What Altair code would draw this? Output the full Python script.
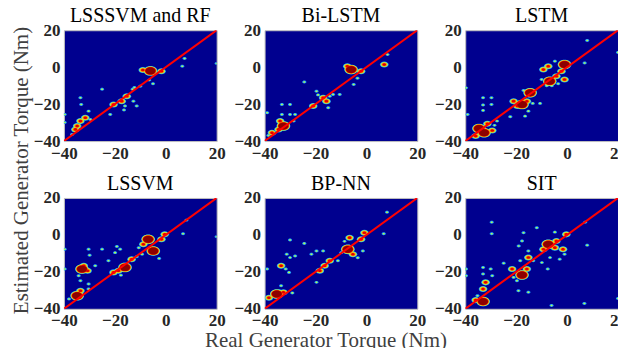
import altair as alt
import pandas as pd

FONT = "Liberation Serif"
BG = "#00008F"

titles = ["LSSSVM and RF", "Bi-LSTM", "LSTM", "LSSVM", "BP-NN", "SIT"]
ticks = [-40, -20, 0, 20]
line_x = [-40, 20]
line_y = [-40, 20]

# density blobs: real torque, estimated torque, intensity level (1..3)
p1_x = [-6, -9, -1.7, 7.4, 6.5, 20, -5, -6.5, -10, -12.3, -13, -25, -15.3, -17.3, -20.5, -12.7, -11.4, -16.4, -16, -21.8,
        -33.5, -31.6, -34.8, -35.5, -36.8, -33.5, -33.2, -30.3, -39.7, -39.7, -29.6]
p1_y = [-2, -1.5, -2.2, 4.7, 0.5, 2, -9, -7, -10.3, -11, -12, -12, -15.7, -18.4, -20.2, -18.4, -21, -23.2, -21, -25.6,
        -29.2, -27.4, -31.9, -33.7, -36.4, -16.6, -20.2, -23.8, -25.6, -30, -28.3]
p1_l = [3, 2, 2, 1, 1, 1, 1, 1, 1, 1, 1, 1, 2, 2, 2, 1, 1, 1, 1, 1,
        2, 2, 2, 2, 1, 1, 1, 1, 1, 1, 1]

p2_x = [-6, -7.5, -2.1, 7, 8.3, -5, -3.5, -24.4, -19.6, -19, -17, -15.7, -14.4, -13.1, -10.5, -15, -20.9,
        -33.2, -30, -39, -33.2, -30, -28, -33.9, -32.6, -34.5, -37.1, -38.5, -28.6]
p2_y = [-1.3, 0.5, -2.2, 1.4, 6.8, -9.4, -6, -8, -13, -15, -16.6, -18.4, -15.7, -14.8, -14.8, -22, -21,
        -20.2, -20.2, -24.7, -25.6, -25.6, -25.6, -29.2, -31.9, -33.7, -35.5, -37, -29.2]
p2_l = [3, 2, 2, 2, 1, 1, 1, 1, 1, 1, 2, 2, 1, 1, 1, 1, 2,
        1, 1, 1, 1, 1, 1, 2, 3, 2, 2, 1, 1]

p3_x = [7.9, 6.9, 20, -1, -7.4, -9.3, -4.8, -2.2, -1, -6.8, -4.2, -3.5, -10, -8, -6,
        -14.5, -17.7, -15.8, -17.1, -21, -19.5, -13.5, -15.2, -16.5, -10.6, -22.3, -27.5,
        -33, -29.7, -33, -29.7, -33, -39.1, -39.7, -34.6, -32.6, -29.4, -35.9, -31.3, -28.5]
p3_y = [14.4, 2.3, 8, 1.4, 0.5, -1.3, 3.2, -2.2, -6.7, -7.6, -4.9, -9, -6.7, -10, -10,
        -13.9, -20.2, -18.5, -12.6, -18.4, -21, -19.6, -23.8, -26.5, -19.6, -26.8, -29.2,
        -16.6, -16.6, -20.5, -20.2, -23.4, -25.6, -11.2, -33.2, -35.5, -34.3, -37.3, -30.6, -31.5]
p3_l = [1, 1, 1, 3, 2, 2, 1, 2, 2, 3, 2, 1, 1, 1, 1,
        3, 3, 2, 1, 2, 2, 1, 1, 1, 1, 1, 1,
        1, 1, 1, 1, 1, 1, 1, 3, 3, 2, 2, 2, 1]

p4_x = [8.1, 6.8, 20, -6.9, -8.8, -4.9, -1.7, -0.4, -10.6, -9.3, -2.6,
        -16, -18.6, -13.4, -11.4, -20.5, -17.6, -19.9, -17.9, -19.2, -22.5, -25,
        -30.3, -29.9, -32.2, -32.9, -30.7, -27.7, -39.7, -34.2, -33.5, -30.3, -30.3, -33.5, -34.8, -38, -39.7]
p4_y = [8, 0.6, -1, -2.4, -5.1, -8.7, -2.4, 0.3, -7, -10.5, -12.8,
        -17.6, -19.4, -13.2, -11.8, -20.3, -21.8, -9.6, -7.8, -6.3, -14, -7.8,
        -7.8, -11, -16.7, -18.5, -19.4, -16.7, -18.5, -22.1, -24.8, -26.6, -29.3, -30.2, -32.9, -34.7, -7.8]
p4_l = [1, 1, 1, 3, 2, 3, 2, 2, 1, 1, 1,
        3, 2, 2, 1, 2, 1, 1, 1, 1, 1, 1,
        1, 1, 2, 3, 2, 1, 1, 1, 1, 1, 1, 2, 3, 1, 1]

p5_x = [8.1, 6.8, -6.6, -7.3, -5.3, -2.1, -0.8, -8.6, -3.4, -1.4, -9.9,
        -16.4, -14.4, -18.3, -19.6, -21.6, -17, -19.6, -11.2,
        -30, -24.4, -31.3, -30, -33.5, -31.7, -30.4, -28, -39, -33.5, -34.2, -35.2, -32.6, -29.1, -38.3]
p5_y = [12.3, 0.6, -1.5, -7.8, -10.5, -2.4, 1.2, -3.5, -12.4, -8.7, -9.6,
        -16.7, -14, -19.4, -8.7, -10.5, -8.7, -25.7, -14,
        -2.8, -4.6, -10.5, -12.3, -16.7, -18.5, -20.3, -11.4, -18.5, -27.5, -30.2, -32, -31.1, -31.4, -34]
p5_l = [1, 1, 2, 3, 2, 2, 2, 1, 1, 1, 1,
        2, 2, 2, 1, 1, 1, 1, 1,
        1, 1, 1, 1, 2, 1, 1, 1, 1, 1, 1, 3, 2, 1, 2]

p6_x = [7.1, 7.9, -29.6, -29.6, -0.3, -4.8, -7.4, -4.2, -1.6, -1, -9.3, -4.8, -2.9, -6.7,
        -17.7, -15.8, -15.2, -13.3, -18.4, -21.6, -21, -19.7, -15.2, -19.1, -17.1, -17.7, -19, -15.2, -11.9, -9.9, -7.6, -24.9,
        -33, -30, -29.4, -33, -32, -33, -35.2, -33, -35.9, -39.7, -39.7, -6.1, 6.8, 20]
p6_y = [6.9, -5.6, 6.9, 0.6, 0.3, 1.5, -5.1, -3.3, -7.8, -10.5, -7.8, -6.9, -13.2, -12.3,
        -21.7, -18.5, -12.2, -14, -14, -18.5, -23, -24.8, -31, -30.2, 1.2, -3.3, -6, -8.7, 3.9, -15, -18.5, -15.3,
        -17.6, -18.5, -22.1, -21.2, -25.7, -29.3, -32.9, -36.1, -35.3, -18.5, -22.1, -38.2, -37.1, -34.4]
p6_l = [1, 1, 1, 1, 2, 1, 3, 2, 2, 1, 2, 2, 1, 1,
        3, 2, 2, 1, 1, 2, 1, 1, 1, 1, 1, 1, 1, 1, 1, 1, 1, 1,
        1, 1, 1, 1, 2, 2, 1, 3, 2, 1, 1, 1, 1, 1]

panels = [(p1_x, p1_y, p1_l), (p2_x, p2_y, p2_l), (p3_x, p3_y, p3_l),
          (p4_x, p4_y, p4_l), (p5_x, p5_y, p5_l), (p6_x, p6_y, p6_l)]

# jet-like contour rings: colour, minimum level, marker area for levels 1..3
rings = [
    ("#1E9BFF", 1, [18, 75, 190]),
    ("#B4FF4B", 1, [5, 52, 165]),
    ("#FF9B00", 2, [1, 32, 140]),
    ("#E10000", 2, [1, 14, 118]),
    ("#8C0000", 3, [1, 1, 95]),
]
ELLIPSE = "M -1 0 A 1 0.7 0 1 1 1 0 A 1 0.7 0 1 1 -1 0 Z"
scale = alt.Scale(domain=[-40, 20], nice=False, zero=False)


def make_panel(i):
    xs, ys, ls = panels[i]
    df = pd.DataFrame({"x": xs, "y": ys, "lv": ls})
    if i == 4:
        xax = alt.Axis(values=ticks, title="Real Generator Torque (Nm)", titleX=61, titleY=38,
                       titleBaseline="alphabetic", titleAlign="center")
    else:
        xax = alt.Axis(values=ticks, title=None)
    if i == 0:
        yax = alt.Axis(values=ticks, title="Estimated Generator Torque (Nm)", titleX=-36, titleY=140,
                       titleBaseline="alphabetic", titleAlign="center", titleAngle=270)
    else:
        yax = alt.Axis(values=ticks, title=None)
    layers = []
    for color, minlv, sizes in rings:
        layers.append(
            alt.Chart(df).transform_filter(alt.datum.lv >= minlv)
            .mark_point(shape=ELLIPSE, filled=True, color=color, opacity=1, strokeWidth=0, clip=True)
            .encode(
                x=alt.X("x:Q", scale=scale, axis=xax),
                y=alt.Y("y:Q", scale=scale, axis=yax),
                size=alt.Size("lv:Q", scale=alt.Scale(domain=[1, 2, 3], range=sizes, type="linear"), legend=None),
            )
        )
    line = alt.Chart(pd.DataFrame({"x": line_x, "y": line_y})).mark_line(
        color="#FF0000", strokeWidth=2, clip=True
    ).encode(x=alt.X("x:Q", scale=scale, axis=xax), y=alt.Y("y:Q", scale=scale, axis=yax))
    layers.append(line)
    return (alt.layer(*layers).resolve_scale(size="independent")
            .properties(width=153, height=111, title=titles[i]))


chart = (
    alt.concat(*[make_panel(i) for i in range(6)], columns=3,
               spacing={"row": 57, "column": 48}, bounds="flush")
    .properties(padding={"left": 2, "top": -3, "right": -9, "bottom": -4})
    .configure_view(fill=BG, stroke="#BFBFBF", strokeWidth=1)
    .configure_axis(
        domain=False, ticks=False, grid=False,
        labelFont=FONT, labelFontWeight="bold", labelFontSize=17, labelColor="#262626",
        labelPadding=4, labelFlush=False, labelOverlap=False,
        titleFont=FONT, titleFontSize=21, titleFontWeight="normal", titleColor="#404040",
    )
    .configure_title(font=FONT, fontSize=20, fontWeight="normal", color="#000000", offset=-5,
                     anchor="middle", frame="group", baseline="alphabetic")
)

chart.save("out.html", embed_options={"renderer": "svg", "actions": False})
